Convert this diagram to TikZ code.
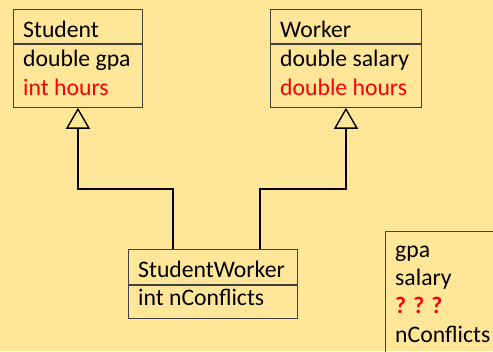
\documentclass[tikz,border=0pt]{standalone}
\usepackage{fontspec}
\setmainfont{Carlito}
\usetikzlibrary{arrows.meta}
\definecolor{bgyellow}{HTML}{FFE699}
\definecolor{boxline}{RGB}{64,64,64}
\definecolor{hotred}{RGB}{255,0,0}
\tikzset{
  % Klass qutilari
  classbox/.style = {draw=boxline, line width=0.9pt, inner sep=0pt, anchor=north west},
  % Matnlar
  attr/.style     = {anchor=base west, inner sep=0pt, font=\fontsize{23.7}{28}\selectfont},
  hotattr/.style  = {attr, text=hotred},
  % Meros strelkasi
  inherit/.style  = {line width=1.4pt, -{Triangle[open, length=21pt, width=24pt, line width=1.4pt]}},
}
\begin{document}
\begin{tikzpicture}[x=1pt, y=-1pt]
  % Fon
  \fill[bgyellow] (0,0) rectangle (493,351);
  \useasboundingbox (0,0) rectangle (493,351);
  \clip (0,0) rectangle (493,351);
  % Student
  \node[classbox, minimum width=129pt, minimum height=34pt] (stuH) at (13,9) {};
  \node[classbox, minimum width=129pt, minimum height=63pt] (stuB) at (stuH.south west) {};
  \node[attr] (stuName) at (23,37) {Student};
  \node[attr] (stuGpa) at (23,66) {double gpa};
  \node[hotattr] (stuHours) at (23,95) {int hours};
  % Worker
  \node[classbox, minimum width=151pt, minimum height=34pt] (wrkH) at (270,9) {};
  \node[classbox, minimum width=151pt, minimum height=63pt] (wrkB) at (wrkH.south west) {};
  \node[attr] (wrkName) at (280,37) {Worker};
  \node[attr] (wrkSalary) at (280,66) {double salary};
  \node[hotattr] (wrkHours) at (280,95) {double hours};
  % StudentWorker
  \node[classbox, minimum width=169pt, minimum height=35pt] (swH) at (128,249) {};
  \node[classbox, minimum width=169pt, minimum height=33pt] (swB) at (swH.south west) {};
  \node[attr] (swName) at (138,277) {StudentWorker};
  \node[attr] (swConf) at (138,305) {int nConflicts};
  % Meros chiziqlari
  \coordinate (swL) at (173,249);
  \coordinate (swR) at (260,249);
  \coordinate (busY) at (0,189);
  \draw[inherit] (swL) |- (stuB.south |- busY) -- (stuB.south);
  \draw[inherit] (swR) |- (wrkB.south |- busY) -- (wrkB.south);
  % O'ng quti
  \node[classbox, minimum width=130pt, minimum height=140pt] (mem) at (385,231) {};
  \node[attr] (memGpa) at (395,257) {gpa};
  \node[attr] (memSalary) at (395,285) {salary};
  \node[hotattr, font=\fontsize{23.7}{28}\selectfont\bfseries] (memQ) at (395,313) {? ? ?};
  \node[attr] (memConf) at (395,342) {nConflicts};
\end{tikzpicture}
\end{document}
